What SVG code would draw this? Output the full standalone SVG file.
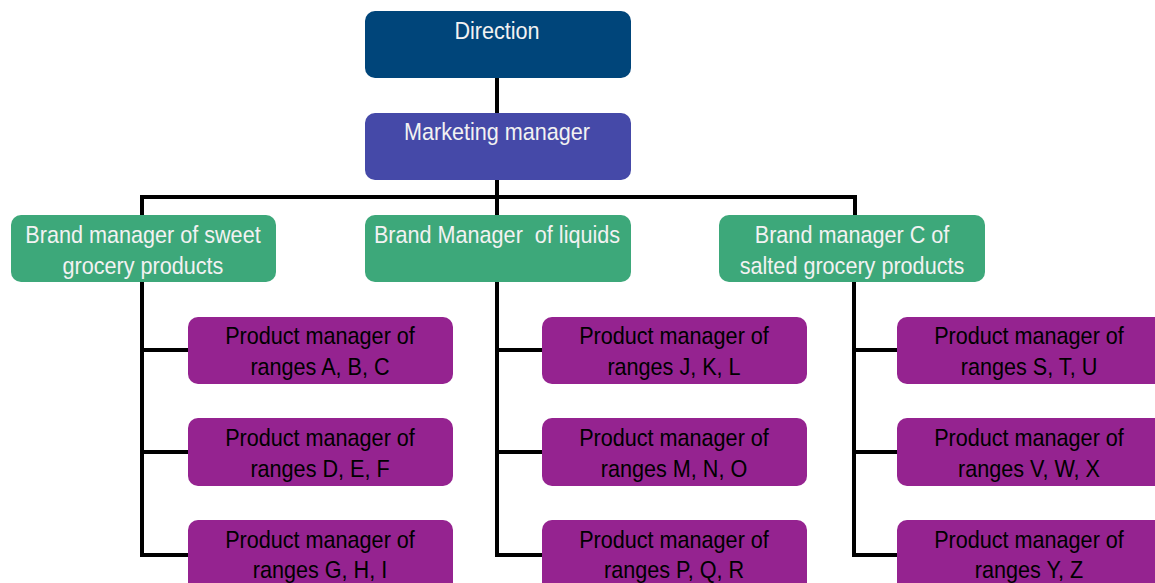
<svg xmlns="http://www.w3.org/2000/svg" width="1155" height="583" viewBox="0 0 1155 583">
<style>
text{font-family:"Liberation Sans",Arial,sans-serif;font-size:24px;text-anchor:middle}
.w{fill:#F2F2F2}
.k{fill:#000}
.dir{fill:#00457A}
.mkt{fill:#4549A8}
.brand{fill:#3DA87A}
.prod{fill:#952390}
.conn{stroke:#000;stroke-width:4;fill:none}
</style>
<rect width="1155" height="583" fill="#fff"/>
<g id="connectors">
<path class="conn" d="M497 78V113M497 180V215M142 215V197H855V215"/>
<path class="conn" d="M142 282V555H188M142 350H188M142 452H188"/>
<path class="conn" d="M497 282V555H542M497 350H542M497 452H542"/>
<path class="conn" d="M854 282V555H897M854 350H897M854 452H897"/>
</g>
<g id="direction"><rect class="dir" x="365" y="11" width="266" height="67" rx="10"/><text class="w" transform="translate(497 39) scale(0.9 1)">Direction</text></g>
<g id="marketing"><rect class="mkt" x="365" y="113" width="266" height="67" rx="10"/><text class="w" transform="translate(497 140) scale(0.9 1)">Marketing manager</text></g>
<g id="brand-sweet"><rect class="brand" x="11" y="215" width="265" height="67" rx="10"/><text class="w" transform="translate(143 243) scale(0.9 1)">Brand manager of sweet</text><text class="w" transform="translate(143 274) scale(0.9 1)">grocery products</text></g>
<g id="brand-liquids"><rect class="brand" x="365" y="215" width="266" height="67" rx="10"/><text class="w" transform="translate(497 243) scale(0.9 1)" xml:space="preserve">Brand Manager  of liquids</text></g>
<g id="brand-salted"><rect class="brand" x="719" y="215" width="266" height="67" rx="10"/><text class="w" transform="translate(852 243) scale(0.9 1)">Brand manager C of</text><text class="w" transform="translate(852 274) scale(0.9 1)">salted grocery products</text></g>
<g id="pm-abc"><rect class="prod" x="188" y="317" width="265" height="67" rx="10"/><text class="k" transform="translate(320 344) scale(0.9 1)">Product manager of</text><text class="k" transform="translate(320 375) scale(0.9 1)">ranges A, B, C</text></g>
<g id="pm-def"><rect class="prod" x="188" y="418" width="265" height="68" rx="10"/><text class="k" transform="translate(320 446) scale(0.9 1)">Product manager of</text><text class="k" transform="translate(320 477) scale(0.9 1)">ranges D, E, F</text></g>
<g id="pm-ghi"><rect class="prod" x="188" y="520" width="265" height="75" rx="10"/><text class="k" transform="translate(320 548) scale(0.9 1)">Product manager of</text><text class="k" transform="translate(320 578) scale(0.9 1)">ranges G, H, I</text></g>
<g id="pm-jkl"><rect class="prod" x="542" y="317" width="265" height="67" rx="10"/><text class="k" transform="translate(674 344) scale(0.9 1)">Product manager of</text><text class="k" transform="translate(674 375) scale(0.9 1)">ranges J, K, L</text></g>
<g id="pm-mno"><rect class="prod" x="542" y="418" width="265" height="68" rx="10"/><text class="k" transform="translate(674 446) scale(0.9 1)">Product manager of</text><text class="k" transform="translate(674 477) scale(0.9 1)">ranges M, N, O</text></g>
<g id="pm-pqr"><rect class="prod" x="542" y="520" width="265" height="75" rx="10"/><text class="k" transform="translate(674 548) scale(0.9 1)">Product manager of</text><text class="k" transform="translate(674 578) scale(0.9 1)">ranges P, Q, R</text></g>
<g id="pm-stu"><rect class="prod" x="897" y="317" width="270" height="67" rx="10"/><text class="k" transform="translate(1029 344) scale(0.9 1)">Product manager of</text><text class="k" transform="translate(1029 375) scale(0.9 1)">ranges S, T, U</text></g>
<g id="pm-vwx"><rect class="prod" x="897" y="418" width="270" height="68" rx="10"/><text class="k" transform="translate(1029 446) scale(0.9 1)">Product manager of</text><text class="k" transform="translate(1029 477) scale(0.9 1)">ranges V, W, X</text></g>
<g id="pm-yz"><rect class="prod" x="897" y="520" width="270" height="75" rx="10"/><text class="k" transform="translate(1029 548) scale(0.9 1)">Product manager of</text><text class="k" transform="translate(1029 578) scale(0.9 1)">ranges Y, Z</text></g>
</svg>
